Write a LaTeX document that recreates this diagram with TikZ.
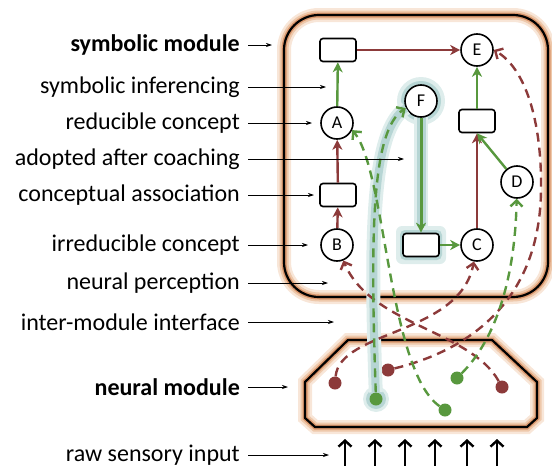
\documentclass[tikz,border=0pt]{standalone}
\usepackage{fontspec}
\setmainfont{Carlito}
\usetikzlibrary{arrows.meta}

\definecolor{rust}{RGB}{140,58,58}
\definecolor{leaf}{RGB}{88,152,62}
\definecolor{amberA}{RGB}{248,230,216}
\definecolor{amberB}{RGB}{238,200,170}
\definecolor{amberC}{RGB}{218,150,108}
\definecolor{tealA}{RGB}{222,237,236}
\definecolor{tealB}{RGB}{182,213,212}

\begin{document}
\begin{tikzpicture}[x=1pt,y=-1pt,
  concept/.style={circle, draw=black, line width=1.6pt, minimum size=32pt, inner sep=0pt, fill=white, font=\fontsize{18}{18}\selectfont},
  slot/.style={draw=black, line width=1.6pt, rounded corners=3pt, minimum width=36pt, minimum height=23pt, inner sep=0pt, fill=white},
  pin/.style={circle, minimum size=13pt, inner sep=0pt},
  lab/.style={anchor=east, inner sep=0pt, font=\fontsize{24}{25}\selectfont},
  labarrow/.style={line width=0.7pt, -{Stealth[length=6pt,width=4pt]}},
  solidlink/.style={line width=2.4pt, -{Stealth[length=10pt,width=10pt,inset=3pt]}},
  dashlink/.style={line width=2.4pt, dash pattern=on 9pt off 6pt, -{Straight Barb[length=6pt,width=12pt]}},
  amberhalo/.style={preaction={draw=amberA,line width=14pt}, preaction={draw=amberB,line width=9pt}, preaction={draw=amberC,line width=5pt}},
]
\useasboundingbox (0,0) rectangle (552,466);

% module outlines with their soft amber halo
\draw[line width=2.2pt, rounded corners=35pt, amberhalo] (284,15) rectangle (548,297);
\draw[line width=2.2pt, line join=round, amberhalo]
  (348,340) -- (492,340) -- (537,382) -- (537,418) -- (527,427) -- (315,427) -- (305,418) -- (305,382) -- cycle;

% teal halo behind the coached concept F and its link
\fill[tealA] (421,101) circle (24pt);
\fill[tealB] (421,101) circle (20pt);
\draw[tealA, line width=14pt] (421,117) -- (421,236);
\draw[tealB, line width=9pt] (421,117) -- (421,236);
\fill[tealA, rounded corners=6pt] (396,226) rectangle (446,264);
\fill[tealB, rounded corners=5pt] (400,230) rectangle (442,260);
\fill[tealA] (376,399) circle (13pt);
\fill[tealB] (376,399) circle (10pt);

% symbolic concepts
\node[slot] (r1) at (338,50) {};
\node[concept] (E) at (477,50) {E};
\node[concept] (F) at (421,101) {F};
\node[concept] (A) at (337,123) {A};
\node[slot] (r2) at (477,121) {};
\node[concept] (D) at (517,182) {D};
\node[slot] (r3) at (338,195) {};
\node[concept] (B) at (337,245) {B};
\node[slot] (r4) at (421,245) {};
\node[concept] (C) at (477,245) {C};

% neural units
\node[pin, fill=rust] (p1) at (335,383) {};
\node[pin, fill=rust] (p2) at (388,370) {};
\node[pin, fill=leaf] (p3) at (376,399) {};
\node[pin, fill=leaf] (p4) at (457,378) {};
\node[pin, fill=leaf] (p5) at (445,410) {};
\node[pin, fill=rust] (p6) at (502,387) {};

% symbolic links
\draw[solidlink, rust] (r1) -- (E);
\draw[solidlink, leaf] (A) -- (r1);
\draw[solidlink, rust] (B) -- (r3);
\draw[solidlink, rust] (r3) -- (A);
\draw[solidlink, leaf] (r2) -- (E);
\draw[solidlink, rust] (C) -- (r2);
\draw[solidlink, leaf] (D) -- (r2.south);
\draw[solidlink, leaf, line width=3pt] (F) -- (r4);
\draw[solidlink, leaf] (r4) -- (C);

% neural-to-symbolic grounding
\draw[tealA, line width=14pt] (p3) .. controls (370,230) and (372,130) .. (F.205);
\draw[tealB, line width=8pt] (p3) .. controls (370,230) and (372,130) .. (F.205);
\draw[dashlink, rust] (p6) .. controls (470,330) and (370,325) .. (B);
\draw[dashlink, rust] (p1) .. controls (340,330) and (460,335) .. (C);
\draw[dashlink, rust] (p2) .. controls (470,350) and (540,300) .. (541,190)
  .. controls (542,120) and (525,68) .. (E.east);
\draw[dashlink, leaf] (p5) .. controls (388,370) and (386,170) .. (A.-25);
\draw[dashlink, leaf] (p4) .. controls (495,340) and (515,280) .. (D);
\draw[dashlink, leaf] (p3) .. controls (370,230) and (372,130) .. (F.205);

% sensory input
\foreach \i/\x in {1/345,2/375,3/405,4/435,5/467,6/497} {
  \coordinate (s\i) at (\x,468);
  \coordinate (n\i) at (\x,439);
  \draw[line width=2.4pt, -{Straight Barb[length=6pt,width=13pt]}] (s\i) -- (n\i);
}

% legend
\node[lab] (l1) at (240,45) {\textbf{symbolic module}};
\node[lab] (l2) at (240,87) {symbolic inferencing};
\node[lab] (l3) at (240,123) {reducible concept};
\node[lab] (l4) at (240,159) {adopted after coaching};
\node[lab] (l5) at (240,195) {conceptual association};
\node[lab] (l6) at (240,245) {irreducible concept};
\node[lab] (l7) at (240,283) {neural perception};
\node[lab] (l8) at (240,322) {inter-module interface};
\node[lab] (l9) at (240,387) {\textbf{neural module}};
\node[lab] (l10) at (240,455) {raw sensory input};

\coordinate (t1) at (272,45);
\coordinate (t2) at (326,87);
\coordinate (t3) at (312,123);
\coordinate (t4) at (404,159);
\coordinate (t5) at (314,195);
\coordinate (t6) at (308,245);
\coordinate (t7) at (328,283);
\coordinate (t8) at (334,322);
\coordinate (t9) at (288,387);
\coordinate (t10) at (329,455);
\foreach \k in {1,...,10} {
  \draw[labarrow] ([xshift=8pt]l\k.east) -- (t\k);
}
\end{tikzpicture}
\end{document}
